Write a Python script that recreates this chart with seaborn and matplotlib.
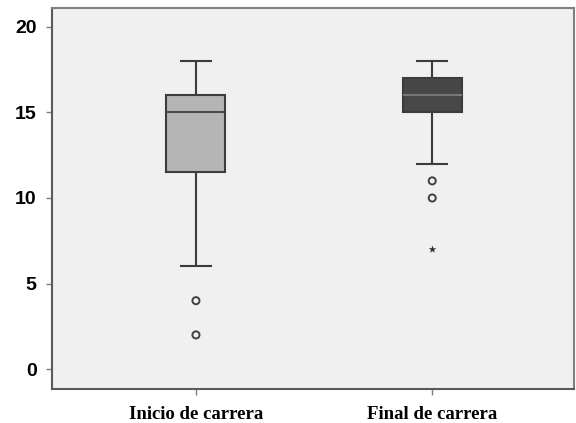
import matplotlib
matplotlib.use("Agg")
import matplotlib.pyplot as plt
import seaborn as sns
import pandas as pd
import numpy as np

categories = ["Inicio de carrera", "Final de carrera"]
inicio_values = [2, 4, 6, 8, 10, 12, 13, 14, 15, 15, 15, 15, 16, 16, 16, 16, 17, 17, 18, 18]
final_values = [7, 10, 11, 12, 15, 15, 15, 15, 16, 16, 16, 16, 16, 17, 17, 17, 17, 18, 18, 18]
box_colors = ["#b5b5b5", "#474747"]
median_colors = ["#4a4a4a", "#777777"]
y_ticks = [0, 5, 10, 15, 20]

df = pd.DataFrame({
    "grupo": [categories[0]] * len(inicio_values) + [categories[1]] * len(final_values),
    "valor": inicio_values + final_values,
})
df["grupo"] = pd.Categorical(df["grupo"], categories=categories, ordered=True)

# classify outliers (SPSS style: circle > 1.5 IQR, star > 3 IQR)
rows = []
medians = []
for cat, vals in zip(categories, [inicio_values, final_values]):
    q1, med, q3 = np.percentile(vals, [25, 50, 75])
    medians.append(med)
    iqr = q3 - q1
    for v in vals:
        if v < q1 - 3 * iqr or v > q3 + 3 * iqr:
            rows.append((cat, v, "extremo"))
        elif v < q1 - 1.5 * iqr or v > q3 + 1.5 * iqr:
            rows.append((cat, v, "atipico"))
out = pd.DataFrame(rows, columns=["grupo", "valor", "tipo"])
out["grupo"] = pd.Categorical(out["grupo"], categories=categories, ordered=True)

fig = plt.figure(figsize=(5.76, 4.23), dpi=100)
ax = fig.add_axes([0.090, 0.080, 0.9065, 0.901])
ax.set_facecolor("#f0f0f0")

line_col = "#3c3c3c"
sns.boxplot(data=df, x="grupo", y="valor", hue="grupo", palette=box_colors,
            order=categories, hue_order=categories, width=0.25, whis=1.5,
            showfliers=False, legend=False, ax=ax,
            boxprops=dict(edgecolor=line_col, linewidth=1.5),
            whiskerprops=dict(color=line_col, linewidth=1.5),
            capprops=dict(color=line_col, linewidth=1.5),
            medianprops=dict(color=line_col, linewidth=1.5))

# recolour median lines per box
for ln in ax.lines:
    xd = np.asarray(ln.get_xdata(), dtype=float)
    yd = np.asarray(ln.get_ydata(), dtype=float)
    if len(yd) == 2 and yd[0] == yd[1] and abs(abs(xd[1] - xd[0]) - 0.25) < 1e-6:
        i = int(round(xd.mean()))
        if yd[0] == medians[i]:
            ln.set_color(median_colors[i])

sns.scatterplot(data=out[out["tipo"] == "atipico"], x="grupo", y="valor", ax=ax,
                marker="o", s=26, facecolor="none", edgecolor="#404040", linewidth=1.4,
                legend=False, zorder=5)
sns.scatterplot(data=out[out["tipo"] == "extremo"], x="grupo", y="valor", ax=ax,
                marker="*", s=34, color="#303030", linewidth=0, legend=False, zorder=5)

ax.set_xlim(-0.61, 1.60)
ax.set_ylim(-1.17, 21.1)
ax.set_yticks(y_ticks)
ax.set_yticklabels([str(t) for t in y_ticks], fontsize=14, fontweight="bold",
                   family="Liberation Sans")
ax.set_xticks([0, 1])
ax.set_xticklabels(categories, fontsize=13.5, fontweight="bold", family="Liberation Serif")
ax.set_xlabel("")
ax.set_ylabel("")
ax.tick_params(axis="both", direction="out", length=4, width=1, color="#808080")
ax.tick_params(axis="y", pad=7)
ax.tick_params(axis="x", pad=8)
for name, sp in ax.spines.items():
    sp.set_color("#5a5a5a" if name in ("left", "bottom") else "#808080")
    sp.set_linewidth(1.5)

fig.savefig("out.png", dpi=100)
